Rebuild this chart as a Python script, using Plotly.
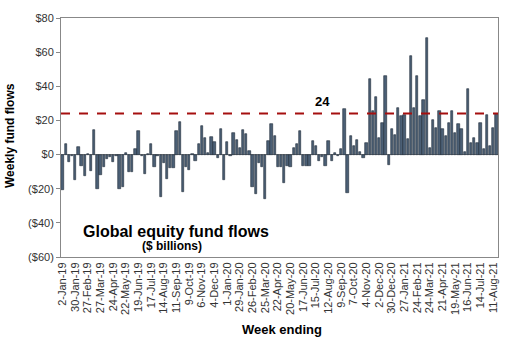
import pandas as pd
import plotly.graph_objects as go

# Weekly global equity fund flows ($ billions), week ending 2-Jan-19 ... 18-Aug-21
week_start = "2019-01-02"
week_end = "2021-08-18"
weeks = pd.date_range(week_start, week_end, freq="7D")
week_labels = [f"{d.day}-{d.strftime('%b-%y')}" for d in weeks]

flows = [
    -21, 6, -4.5, -1, -15, 4.6, -6.4, -12.7, 0.5, -9.8,
    14.3, -20, -12, -7, -2.5, -1.5, -4.4, -1, -20, -19,
    1, -10, -10, 3.3, 14, -1, -11.5, 0.6, 6, -7,
    -1, -24.7, -5, -14.5, -8, -8, 14, 19, -22, -7,
    -9, 0.3, -3.5, 6, 16.5, 9.6, 1, 10.4, 7.3, -2,
    14.8, -14.6, 7.3, -0.8, 12.5, 8.7, 3.9, 14.3, 12.3, 2,
    -19, -23, -5, -7.3, -26, 7.7, 18, 10.8, -7, -7,
    -16.6, -6.5, -7.3, 3.9, 6.2, 13.9, -6.7, -6.7, -6.7, 7.7,
    5.2, -3.5, -1.5, -6.9, 8.1, -3.5, 0.8, -1, 3.3, 26.8,
    -22.7, 11, 4.8, 8.7, 1.7, -2, 6.7, 44.3, 25.5, 34,
    9.6, 18.3, 46.2, -6, 14.8, 11.5, 27, 22.5, 23, 9,
    57.7, 27.5, 46.2, 22.5, 31.7, 68.2, 3.9, 20.2, 15.4, 25.4,
    15, 11, 18.3, 25.6, 12.5, 17.7, 14.8, 1.7, 38.5, 6.7,
    9.6, 6.7, 18.7, 3.3, 22.9, 5.2, 15.4, 23.5,
]

tick_labels = [
    "2-Jan-19", "30-Jan-19", "27-Feb-19", "27-Mar-19", "24-Apr-19", "22-May-19",
    "19-Jun-19", "17-Jul-19", "14-Aug-19", "11-Sep-19", "9-Oct-19", "6-Nov-19",
    "4-Dec-19", "1-Jan-20", "29-Jan-20", "26-Feb-20", "25-Mar-20", "22-Apr-20",
    "20-May-20", "17-Jun-20", "15-Jul-20", "12-Aug-20", "9-Sep-20", "7-Oct-20",
    "4-Nov-20", "2-Dec-20", "30-Dec-20", "27-Jan-21", "24-Feb-21", "24-Mar-21",
    "21-Apr-21", "19-May-21", "16-Jun-21", "14-Jul-21", "11-Aug-21",
]

y_ticks = [80, 60, 40, 20, 0, -20, -40, -60]
y_tick_text = ["$80", "$60", "$40", "$20", "$0", "($20)", "($40)", "($60)"]

average_level = 24

FONT = "Arial, Liberation Sans, sans-serif"

fig = go.Figure()
fig.add_trace(go.Bar(
    x=week_labels, y=flows,
    marker=dict(color="#4B5F75", line=dict(color="#1F2A36", width=0.6)),
    width=0.75,
))

fig.add_shape(type="line", xref="paper", yref="y", x0=0, x1=1,
              y0=average_level, y1=average_level,
              line=dict(color="#A50F0F", width=2, dash="dash"))

def label(x, y, text, size, xref="paper", yref="paper", angle=0):
    fig.add_annotation(x=x, y=y, xref=xref, yref=yref, text=text,
                       showarrow=False, xanchor="center", yanchor="middle",
                       textangle=angle,
                       font=dict(family=FONT, size=size, color="#000000"))

label(week_labels[82], average_level + 7, "<b>24</b>", 13, xref="x", yref="y")
label((176 - 61) / 437, (257 - 231) / 241, "<b>Global equity fund flows</b>", 16)
label((172 - 61) / 437, (257 - 246) / 241, "<b>($ billions)</b>", 12)
label((10 - 61) / 437, (257 - 135) / 241, "<b>Weekly fund flows</b>", 12, angle=-90)
label((282 - 61) / 437, (257 - 330) / 241, "<b>Week ending</b>", 13)

tick_vals = [week_labels[i] for i in range(0, len(week_labels), 4)][:len(tick_labels)]

fig.update_layout(
    width=512, height=342,
    margin=dict(l=61, r=14, t=16, b=85),
    paper_bgcolor="white", plot_bgcolor="white",
    showlegend=False, bargap=0,
    font=dict(family=FONT, size=11, color="#333333"),
    xaxis=dict(type="category", tickmode="array", tickvals=tick_vals,
               ticktext=tick_labels, tickangle=-90,
               tickfont=dict(family=FONT, size=11, color="#333333"),
               showline=True, mirror=True, linecolor="#888888", linewidth=1,
               showgrid=False, ticks="", range=[-0.5, len(week_labels) - 0.5]),
    yaxis=dict(range=[-60, 80], tickmode="array", tickvals=y_ticks,
               ticktext=y_tick_text,
               tickfont=dict(family=FONT, size=11, color="#333333"),
               showline=True, mirror=True, linecolor="#888888", linewidth=1,
               showgrid=False, ticks="outside", ticklen=4, tickcolor="#888888",
               zeroline=True, zerolinecolor="#888888", zerolinewidth=1),
)

fig.write_html("out.html")
